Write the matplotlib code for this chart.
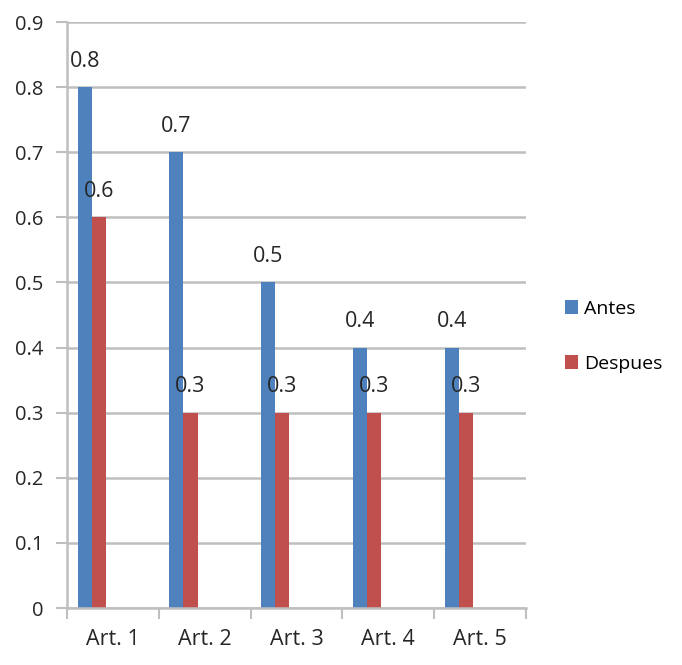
import numpy as np
import matplotlib.pyplot as plt

# Datos del gráfico
articulos = ["Art. 1", "Art. 2", "Art. 3", "Art. 4", "Art. 5"]
antes = [0.8, 0.7, 0.5, 0.4, 0.4]
despues = [0.6, 0.3, 0.3, 0.3, 0.3]

azul = "#4F81BD"
rojo = "#C0504D"
gris = "#BFBFBF"

plt.rcParams['font.family'] = ['Open Sans', 'DejaVu Sans']

fig = plt.figure(figsize=(6.82, 6.65), dpi=100)
ax = fig.add_axes([67/682, 1 - 608/665, (526-67)/682, (608-22)/665])

x = np.arange(len(articulos))
ancho = 0.153
b1 = ax.bar(x - 0.384, antes, ancho, align='edge', color=azul, label="Antes")
b2 = ax.bar(x - 0.384 + ancho, despues, ancho, align='edge', color=rojo, label="Despues")

# Etiquetas de valor encima de cada barra
for barras, vals in ((b1, antes), (b2, despues)):
    for rect, v in zip(barras, vals):
        ax.annotate(str(v), (rect.get_x() + rect.get_width()/2, v),
                    xytext=(0, 11), textcoords='offset points',
                    ha='center', va='bottom', fontsize=15.5, color='#262626')

ax.set_xlim(-0.5, len(articulos) - 0.5)
ax.set_ylim(0, 0.9)
ax.set_yticks(np.arange(0, 0.91, 0.1))
ax.set_yticklabels(["0"] + ["%.1f" % v for v in np.arange(0.1, 0.91, 0.1)])
ax.yaxis.grid(True, color=gris, linewidth=1.8)
ax.set_axisbelow(True)

ax.set_xticks(x)
ax.set_xticklabels(articulos)
# marcas en los bordes de categoría
ax.set_xticks(np.arange(-0.5, len(articulos)), minor=True)
ax.tick_params(axis='x', which='major', length=0, pad=15, labelsize=15.5, labelcolor='#262626')
ax.tick_params(axis='x', which='minor', length=8, width=1.5, color=gris, direction='out')
ax.tick_params(axis='y', length=8, width=1.5, color=gris, pad=9, labelsize=14.5, labelcolor='#262626')

for s in ('top', 'right'):
    ax.spines[s].set_visible(False)
for s in ('left', 'bottom'):
    ax.spines[s].set_color(gris)
    ax.spines[s].set_linewidth(1.8)

ax.legend(loc='center left', bbox_to_anchor=(1.055, 0.464), frameon=False,
          fontsize=14, handlelength=0.7, handleheight=0.7, handletextpad=0.3,
          labelspacing=1.9, borderpad=0.2)

plt.savefig("out.png", dpi=100)
